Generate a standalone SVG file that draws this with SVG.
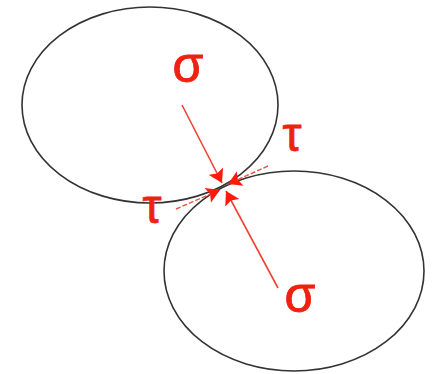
<svg xmlns="http://www.w3.org/2000/svg" width="436" height="374" viewBox="0 0 436 374">
<style>
.ell{fill:none;stroke:#333;stroke-width:1.6}
.lab{font-family:"Liberation Sans","DejaVu Sans",sans-serif;fill:#ee2211;stroke:#ee2211;stroke-width:0.8;text-anchor:middle}
.sig{stroke:#ee4433;stroke-width:1.6;fill:none}
.tau{stroke:#ee5544;stroke-width:1.4;stroke-dasharray:5 2;fill:none}
</style>
<defs>
<marker id="ah" viewBox="0 0 10 12" refX="10" refY="6" markerWidth="14" markerHeight="16" markerUnits="userSpaceOnUse" orient="auto">
<path d="M0,0 L10,6 L0,12 L2,6 Z" fill="#ff1a0a"/>
</marker>
</defs>
<rect width="436" height="374" fill="#fff"/>
<g id="grain-top"><ellipse class="ell" cx="150" cy="105" rx="128" ry="98"/></g>
<g id="grain-bottom"><ellipse class="ell" cx="294" cy="271" rx="130" ry="100"/></g>
<g id="connectors">
<line class="sig" x1="182" y1="105" x2="222" y2="183" marker-end="url(#ah)"/>
<line class="sig" x1="278" y1="288" x2="226" y2="191" marker-end="url(#ah)"/>
<line class="tau" x1="176" y1="209" x2="220" y2="190" marker-end="url(#ah)"/>
<line class="tau" x1="268" y1="166" x2="228" y2="184" marker-end="url(#ah)"/>
</g>
<g id="labels">
<text class="lab" x="188" y="82" font-size="50">σ</text>
<text class="lab" x="300" y="312" font-size="50">σ</text>
<text class="lab" x="292" y="151" font-size="48">τ</text>
<text class="lab" x="152" y="223" font-size="48">τ</text>
</g>
</svg>
